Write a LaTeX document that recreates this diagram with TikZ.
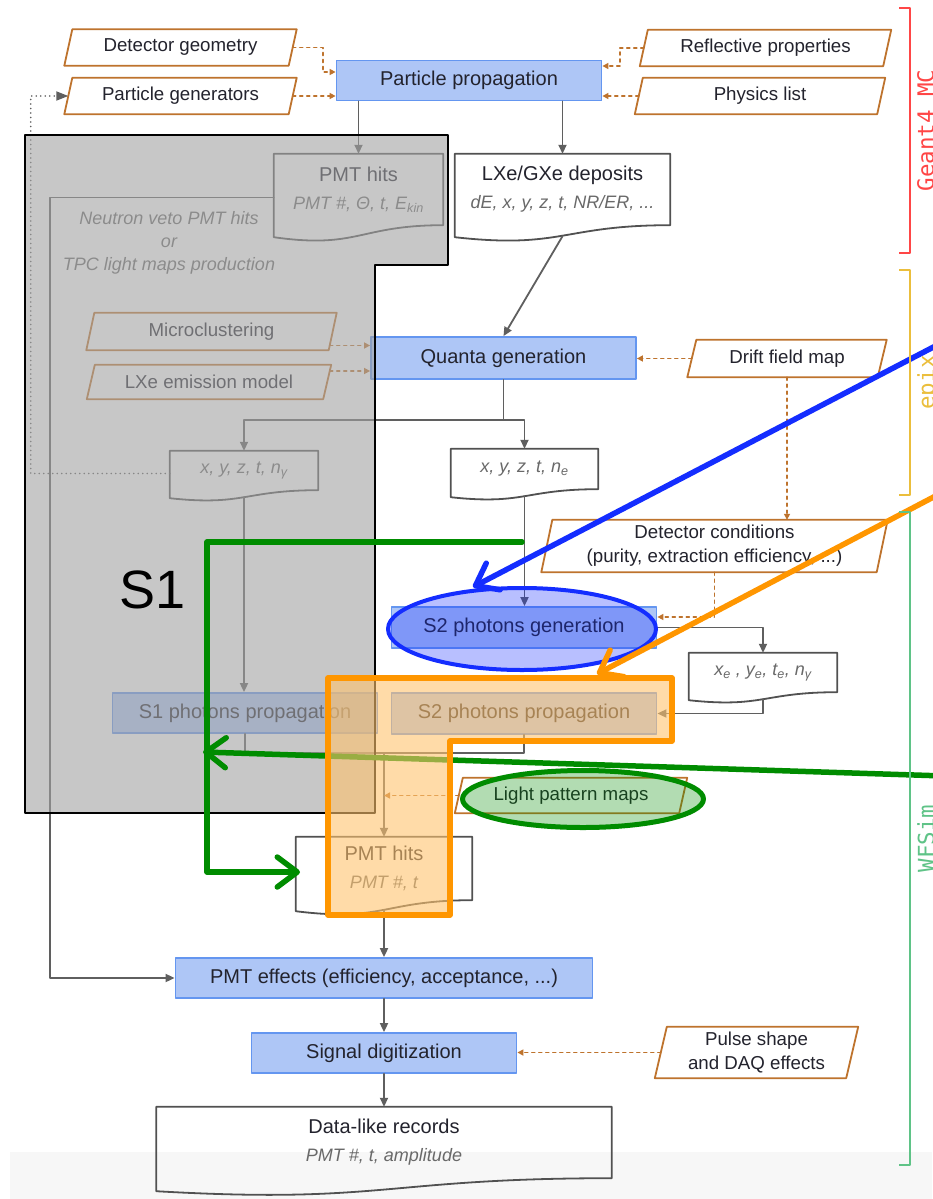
\documentclass[tikz,border=0pt]{standalone}
\usepackage{fontspec}
\setmainfont{Liberation Sans}
\setmonofont{DejaVu Sans Mono}
\usetikzlibrary{arrows.meta}

\definecolor{boxfill}{RGB}{174,198,246}
\definecolor{boxedge}{RGB}{100,150,240}
\definecolor{incol}{RGB}{190,115,45}
\definecolor{linecol}{RGB}{95,95,95}
\definecolor{subcol}{RGB}{105,105,105}
\definecolor{txtcol}{RGB}{35,35,45}
\definecolor{s1gray}{RGB}{163,163,163}
\definecolor{hiorange}{RGB}{255,150,0}
\definecolor{hifill}{RGB}{255,195,110}
\definecolor{hiblue}{RGB}{20,45,255}
\definecolor{higreen}{RGB}{0,140,0}
\definecolor{geantcol}{RGB}{255,70,70}
\definecolor{epixcol}{RGB}{235,190,60}
\definecolor{wfcol}{RGB}{95,195,135}

% outline of a document box (wavy bottom) and of an input box (slanted)
\newcommand{\wavedoc}[2]{%
  \draw[docedge] (#1.south east) -- (#1.north east) -- (#1.north west)
    -- ([yshift=-1pt*#2]#1.south west)
    .. controls ([yshift=-2pt*#2]#1.south) and (#1.south) .. (#1.south east);}
\newcommand{\slantin}[2]{%
  \draw[inedge] ([xshift=1pt*#2]#1.north west) -- ([xshift=1pt*#2]#1.north east)
    -- ([xshift=-1pt*#2]#1.south east) -- ([xshift=-1pt*#2]#1.south west) -- cycle;}
\newcommand{\subline}[1]{{\itshape\fontsize{18}{28}\selectfont\color{subcol}#1}}

\begin{document}
\begin{tikzpicture}[line join=round, line cap=round, x=1pt, y=-1pt]
\tikzset{
  base/.style={font=\fontsize{20}{28}\selectfont, text=txtcol, inner sep=0pt, align=center},
  proc/.style={base, rectangle, fill=boxfill, draw=boxedge, line width=1.8pt,
    minimum width=265pt, minimum height=40pt},
  inp/.style={base, font=\fontsize{18.7}{24}\selectfont, minimum height=36pt},
  doc/.style={base},
  docedge/.style={draw=linecol!85!black, line width=1.8pt},
  inedge/.style={draw=incol, line width=1.8pt},
  flow/.style={draw=linecol, line width=1.8pt},
  arr/.style={flow, -{Triangle[length=9pt,width=8pt]}},
  dasharr/.style={draw=incol, line width=1.6pt, dash pattern=on 3pt off 4pt,
    -{Triangle[length=6pt,width=6pt]}},
  dotarr/.style={draw=linecol, line width=1.8pt, dash pattern=on 0pt off 4.5pt,
    -{Triangle[length=12pt,width=9pt]}},
  hiarrow/.style={line width=5.5pt, -{Straight Barb[length=20pt,width=30pt,round]}},
  brack/.style={line width=2pt, line cap=butt},
  side/.style={rotate=90, anchor=north, inner sep=0pt, font=\ttfamily\fontsize{22.5}{24}\selectfont}
}
\useasboundingbox (0,0) rectangle (932,1199);
\fill[white] (0,0) rectangle (932,1199);
\fill[black!3] (10,1152) rectangle (932,1199);

% Geant4 part
\node[inp, minimum width=224pt] (geom) at (180.5,47.5) {Detector geometry};
\node[inp, minimum width=224pt] (gen) at (180.5,96) {Particle generators};
\node[proc] (prop) at (469,80.5) {Particle propagation};
\node[inp, minimum width=243pt] (refl) at (765.5,48) {Reflective properties};
\node[inp, minimum width=242pt] (phys) at (760,96) {Physics list};
\node[doc, minimum width=169pt, minimum height=71pt] (pmtA) at (358.5,189.5)
  {PMT hits\\\subline{PMT \#, Θ, t, E\textsubscript{kin}}};
\node[doc, minimum width=215pt, minimum height=71pt] (depo) at (562.5,189.5)
  {LXe/GXe deposits\\\subline{dE, x, y, z, t, NR/ER, ...}};
\node[base, font=\itshape\fontsize{18}{23}\selectfont, text=subcol] (veto) at (169,243)
  {Neutron veto PMT hits\\or\\TPC light maps production};

% epix part
\node[inp, minimum width=242pt, minimum height=37pt] (micro) at (211.5,331.5) {Microclustering};
\node[inp, minimum width=236pt, minimum height=34pt] (emis) at (209,382) {LXe emission model};
\node[proc, minimum height=42pt] (quanta) at (503.5,358) {Quanta generation};
\node[inp, minimum width=190pt, minimum height=37pt] (drift) at (787,358.5) {Drift field map};
\node[doc, minimum width=148pt, minimum height=39pt] (ngam) at (244,470.5)
  {\subline{x, y, z, t, n\textsubscript{γ}}};
\node[doc, minimum width=147pt, minimum height=40pt] (nel) at (524.5,469)
  {\subline{x, y, z, t, n\textsubscript{e}}};

% WFSim part
\node[inp, minimum width=335pt, minimum height=52pt] (cond) at (714.5,546)
  {Detector conditions\\(purity, extraction efficiency, ...)};
\node[proc, minimum height=41pt] (s2gen) at (524,627.5) {S2 photons generation};
\node[doc, minimum width=148pt, minimum height=39pt] (xe) at (763,672.5)
  {\subline{x\textsubscript{e} , y\textsubscript{e}, t\textsubscript{e}, n\textsubscript{γ}}};
\node[proc] (s1prop) at (245,713) {S1 photons propagation};
\node[proc, minimum height=41pt] (s2prop) at (524,713.5) {S2 photons propagation};
\node[inp, minimum width=224pt, minimum height=35pt] (light) at (571,795.5) {Light pattern maps};
\node[doc, minimum width=176pt, minimum height=63pt] (pmtB) at (384,868.5)
  {PMT hits\\\subline{PMT \#, t}};
\node[proc, minimum width=417pt] (pmteff) at (384,978) {PMT effects (efficiency, acceptance, ...)};
\node[proc] (digit) at (384,1053) {Signal digitization};
\node[inp, minimum width=191pt, minimum height=51pt] (pulse) at (756.5,1052.5)
  {Pulse shape\\and DAQ effects};
\node[doc, minimum width=455pt, minimum height=71pt] (data) at (384,1142.5)
  {Data-like records\\\subline{PMT \#, t, amplitude}};

\foreach \n/\d in {pmtA/12, depo/12, ngam/8, nel/8, xe/8, pmtB/11, data/13}
  \wavedoc{\n}{\d};
\foreach \n/\s in {geom/4, gen/4, refl/4, phys/4, micro/4, emis/4, drift/4.5,
  cond/5.5, light/4, pulse/6}
  \slantin{\n}{\s};

% connectors
\draw[arr] (prop.south -| pmtA.north) -- (pmtA.north);
\draw[arr] (prop.south -| depo.north) -- (depo.north);
\draw[dasharr] (geom.east) -- ++(30,0) |- ([yshift=8.5pt]prop.west);
\draw[dasharr] (gen.east) -- (gen.east -| prop.west);
\draw[dasharr] (refl.west) -- ++(-24,0) |- ([yshift=14.5pt]prop.east);
\draw[dasharr] (phys.west) -- (phys.west -| prop.east);
\draw[arr] ([yshift=-11pt]depo.south) -- (quanta.north);
\coordinate (mc) at ([xshift=-3pt,yshift=-14pt]micro.east);
\coordinate (ec) at ([xshift=2.5pt,yshift=11pt]emis.east);
\draw[dasharr] (mc) -- (mc -| quanta.west);
\draw[dasharr] (ec) -- (ec -| quanta.west);
\draw[dasharr] (drift.west) -- (drift.west -| quanta.east);
\draw[dasharr] (drift.south) -- (drift.south |- cond.north);
\draw[flow] (quanta.south) -- ++(0,40) coordinate (qsplit);
\draw[arr] (qsplit) -| (ngam.north);
\draw[arr] (qsplit) -| (nel.north);
\draw[arr] ([yshift=-7pt]ngam.south) -- (ngam.south |- s1prop.north);
\draw[arr] ([yshift=-7pt]nel.south) -- (nel.south |- s2gen.north);
\draw[dasharr] (cond.south) |- ([yshift=10.5pt]s2gen.east);
\draw[arr] (s2gen.east) -| (xe.north);
\draw[arr] ([yshift=-7pt]xe.south) |- (s2prop.east);
\coordinate (merge) at (384,753);
\draw[flow] (s2prop.south) |- (merge);
\draw[flow] (s1prop.south) |- (merge);
\draw[arr] (merge) -- (pmtB.north);
\draw[dasharr] (light.west) -- (light.west -| merge);
\draw[arr] ([yshift=-10pt]pmtB.south) -- (pmteff.north);
\draw[arr] (pmteff.south) -- (digit.north);
\draw[dasharr] (pulse.west) -- (pulse.west -| digit.east);
\draw[arr] (digit.south) -- (data.north);
\draw[arr] ([yshift=-8pt]pmtA.west) -- ++(-224,0) |- (pmteff.west);
\draw[dotarr] ([yshift=-3pt]ngam.west) -- ++(-139,0) |- (gen.west);

% S1 shading
\filldraw[fill=s1gray, fill opacity=0.6, draw=black, line width=2pt]
  (25,135) -- (448,135) -- (448,265) -- (375,265) -- (375,813) -- (25,813) -- cycle;

% marks
\coordinate (g1start) at (522,542);
\coordinate (g1end) at (300,872);
\coordinate (g2start) at (945,776);
\coordinate (g2end) at (203,752);
\draw[hiarrow, higreen] (g1start) -- (207,542) -- (207,872) -- (g1end);
\draw[hiarrow, higreen] (g2start) -- (g2end);

\filldraw[fill=hiblue, fill opacity=0.3, draw=hiblue, line width=4pt]
  (522,629) ellipse [x radius=134pt, y radius=41pt];
\coordinate (bstart) at (945,341);
\coordinate (bend) at (473,587);
\draw[hiarrow, hiblue] (bstart) -- (bend);

\filldraw[fill=hifill, fill opacity=0.6, draw=hiorange, line width=5.5pt]
  (328,678) -- (672,678) -- (672,741) -- (450,741) -- (450,915) -- (328,915) -- cycle;
\coordinate (ostart) at (945,491);
\coordinate (oend) at (597,674);
\draw[hiarrow, hiorange] (ostart) -- (oend);

\filldraw[fill=higreen, fill opacity=0.3, draw=higreen, line width=5pt]
  (583,799) ellipse [x radius=120.5pt, y radius=28.5pt];

\node[font=\fontsize{54}{60}\selectfont] (s1lbl) at (153,590) {S1};

% stage brackets
\draw[brack, geantcol] (899,8) -- (910,8) -- (910,253) -- (899,253);
\draw[brack, epixcol] (899,270) -- (910,270) -- (910,495) -- (899,495);
\draw[brack, wfcol] (899,512) -- (910,512) -- (910,1165) -- (899,1165);
\node[side, text=geantcol] (geantlbl) at (917,130.5) {Geant4 MC};
\node[side, text=epixcol] (epixlbl) at (917,382.5) {epix};
\node[side, text=wfcol] (wflbl) at (917,838.5) {WFSim};
\end{tikzpicture}
\end{document}
